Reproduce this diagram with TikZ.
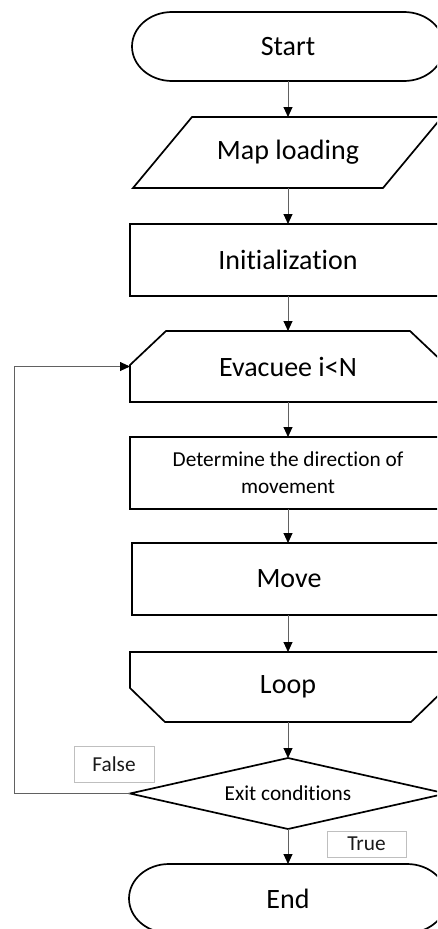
\documentclass[tikz,border=0pt]{standalone}
\usepackage{fontspec}
\setmainfont{Carlito}[Ligatures={NoCommon}]
\usetikzlibrary{arrows.meta}
\begin{document}
\begin{tikzpicture}[x=1pt,y=-1pt,
  big/.style={font=\fontsize{28}{32}\selectfont},
  small/.style={font=\fontsize{21.3}{27}\selectfont},
  frame/.style={minimum width=316pt,inner sep=0pt,outer sep=0pt,align=center},
  shp/.style={draw=black,line width=1.7pt,line join=miter},
  conn/.style={draw=black!62,line width=0.9pt,-{Triangle[length=10pt,width=9pt,fill=black,color=black]}},
  lbl/.style={draw=black!25,line width=1pt,inner sep=0pt,small,text=black!90}
]
\useasboundingbox (0,0) rectangle (437,929);
\clip (0,0) rectangle (437,929);

\node[frame,big,minimum width=312pt,minimum height=69pt] (start) at (288,46.5) {Start};
\node[frame,big,minimum height=71pt] (map) at (288,152.5) {Map loading};
\node[frame,big,minimum height=72pt,shp,draw] (init) at (288,260) {Initialization};
\node[frame,big,minimum height=71pt] (ev) at (288,366.5) {Evacuee i<N};
\node[frame,small,minimum height=72pt,shp,draw] (det) at (288,473) {Determine the direction of\\movement};
\node[frame,big,minimum height=72pt,minimum width=314pt,shp,draw] (move) at (289,579) {Move};
\node[frame,big,minimum height=70pt] (lo) at (288,687) {Loop};
\node[frame,small,minimum height=71pt] (dec) at (288,793.5) {Exit conditions};
\node[frame,big,minimum width=318pt,minimum height=69pt] (end) at (288,898.5) {End};
\node[lbl,minimum width=80pt,minimum height=36pt] (false) at (114,764) {False};
\node[lbl,minimum width=79pt,minimum height=26pt] (true) at (366.5,844) {True};
\coordinate (lp) at (14,793.5);

% custom outlines
\draw[shp] ([xshift=40pt]start.north west) -- ([xshift=-40pt]start.north east)
  arc[start angle=90,end angle=-90,x radius=40pt,y radius=34.5pt]
  -- ([xshift=40pt]start.south west)
  arc[start angle=-90,end angle=-270,x radius=40pt,y radius=34.5pt] -- cycle;
\draw[shp] ([xshift=40pt]end.north west) -- ([xshift=-40pt]end.north east)
  arc[start angle=90,end angle=-90,x radius=40pt,y radius=34.5pt]
  -- ([xshift=40pt]end.south west)
  arc[start angle=-90,end angle=-270,x radius=40pt,y radius=34.5pt] -- cycle;
\draw[shp] ([xshift=62pt]map.north west) -- ([xshift=-4pt]map.north east)
  -- ([xshift=-63pt]map.south east) -- ([xshift=3pt]map.south west) -- cycle;
\draw[shp] (ev.south west) -- ([yshift=-34pt]ev.north west) -- ([xshift=36pt]ev.north west)
  -- ([xshift=-36pt]ev.north east) -- ([yshift=-34pt]ev.north east) -- (ev.south east) -- cycle;
\draw[shp] (lo.north west) -- ([yshift=34pt]lo.south west) -- ([xshift=35pt]lo.south west)
  -- ([xshift=-35pt]lo.south east) -- ([yshift=34pt]lo.south east) -- (lo.north east) -- cycle;
\draw[shp] (dec.north) -- (dec.east) -- (dec.south) -- (dec.west) -- cycle;

% connectors
\draw[conn] (start.south) -- (map.north);
\draw[conn] (map.south) -- (init.north);
\draw[conn] (init.south) -- (ev.north);
\draw[conn] (ev.south) -- (det.north);
\draw[conn] (det.south) -- (move.north -| det.south);
\draw[conn] (move.south -| det.south) -- (lo.north);
\draw[conn] (lo.south) -- (dec.north);
\draw[conn] (dec.south) -- (end.north);
\draw[conn] (dec.west) -- (lp) |- (ev.west);
\end{tikzpicture}
\end{document}
